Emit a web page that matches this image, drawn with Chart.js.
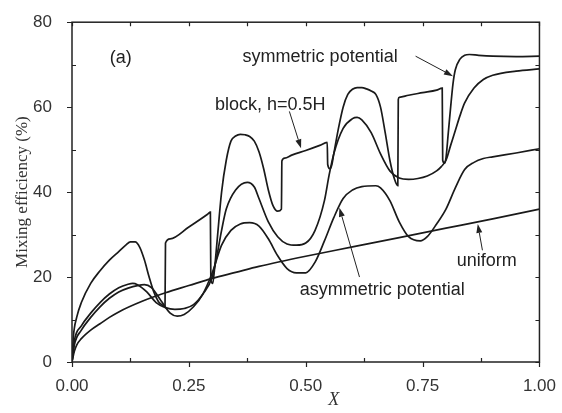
<!DOCTYPE html>
<html>
<head>
<meta charset="utf-8">
<script src="https://cdn.jsdelivr.net/npm/chart.js@4.4.1/dist/chart.umd.min.js"></script>
<style>
  html, body { margin: 0; padding: 0; background: #fff; }
  #wrap { width: 562px; height: 413px; }
</style>
</head>
<body>
<div id="wrap"><canvas id="chart" width="562" height="413"></canvas></div>
<script>
// mixing efficiency (%) along the channel
const blockX = [0, 0.003, 0.01, 0.02, 0.04, 0.06, 0.08, 0.10, 0.115, 0.125, 0.135, 0.145, 0.155, 0.165, 0.175, 0.185, 0.195, 0.199,
                0.2, 0.21, 0.25, 0.29, 0.296, 0.297, 0.301, 0.305, 0.31, 0.32, 0.33, 0.34, 0.35, 0.36, 0.37, 0.38, 0.39, 0.40,
                0.41, 0.42, 0.43, 0.44, 0.448, 0.449, 0.455, 0.47, 0.50, 0.53, 0.546, 0.547, 0.552, 0.556, 0.56, 0.57, 0.58,
                0.59, 0.60, 0.61, 0.62, 0.63, 0.64, 0.65, 0.66, 0.67, 0.68, 0.69, 0.697, 0.698, 0.70, 0.72, 0.75, 0.78, 0.792,
                0.793, 0.797, 0.80, 0.805, 0.81, 0.815, 0.82, 0.83, 0.84, 0.85, 0.87, 0.90, 0.95, 1.0];
const blockY = [0, 6, 10.5, 14, 18.5, 21.5, 24, 26, 27.5, 28.3, 28.3, 27, 24, 20, 16.5, 14.2, 13.3, 13.2,
                28, 29, 31.8, 34.8, 35.3, 19.5, 18.5, 22, 28, 40, 47.5, 52, 53.2, 53.6, 53.5, 53.1, 52, 49.5,
                45.5, 40.5, 36.8, 35.5, 36, 47.3, 48, 48.7, 49.8, 51, 51.7, 46.5, 45.5, 46.5, 49, 55, 60,
                63, 64.2, 64.6, 64.6, 64.3, 63.8, 63, 60, 54, 47.5, 43, 41.5, 61.8, 62.3, 62.8, 63.4, 64, 64.5,
                47.5, 46.8, 48, 54, 60, 65.5, 68.8, 71.3, 72.2, 72.4, 72.2, 72, 71.9, 72];

const symX = [0, 0.005, 0.02, 0.04, 0.06, 0.08, 0.10, 0.12, 0.13, 0.14, 0.16, 0.18, 0.20, 0.22, 0.24, 0.26, 0.28, 0.30,
              0.31, 0.32, 0.33, 0.35, 0.375, 0.39, 0.40, 0.42, 0.44, 0.46, 0.48, 0.50, 0.52, 0.54, 0.55, 0.56, 0.58,
              0.60, 0.61, 0.62, 0.64, 0.66, 0.68, 0.70, 0.72, 0.74, 0.76, 0.78, 0.79, 0.80, 0.81, 0.82, 0.83, 0.84,
              0.86, 0.88, 0.90, 0.95, 1.0];
const symY = [0, 5, 8.5, 11.5, 14, 16, 17.5, 18.3, 18.5, 18.2, 16.5, 14, 12.8, 12.4, 12.6, 13.5, 16, 20,
              25, 31, 36, 40.5, 42.3, 41.2, 38.5, 33, 29.5, 27.8, 27.5, 28, 31, 38, 44, 49, 55,
              57.3, 57.6, 57, 54, 49, 45, 43.3, 43, 43.2, 43.8, 45, 46, 47.5, 51, 54.5, 58, 61,
              64.5, 66.5, 67.5, 68.5, 69];

const asymX = [0, 0.005, 0.02, 0.04, 0.06, 0.08, 0.10, 0.12, 0.14, 0.155, 0.17, 0.19, 0.21, 0.225, 0.24, 0.26, 0.28,
               0.30, 0.32, 0.34, 0.36, 0.38, 0.40, 0.42, 0.44, 0.46, 0.48, 0.50, 0.52, 0.54, 0.56, 0.58, 0.60, 0.62,
               0.65, 0.66, 0.68, 0.70, 0.72, 0.745, 0.76, 0.78, 0.80, 0.82, 0.84, 0.86, 0.88, 0.90, 0.95, 1.0];
const asymY = [0, 4, 7.5, 10.5, 13, 15, 16.5, 17.4, 18, 18.2, 17.5, 14.5, 11.5, 10.8, 11.2, 13, 16,
               21, 27.5, 31, 32.5, 32.8, 32, 29, 25, 22, 21, 21, 23.5, 28.5, 34, 38.5, 40.5, 41.3,
               41.5, 41, 38, 33, 29.5, 28.5, 29.5, 32.5, 36, 41, 45.3, 47, 47.9, 48.3, 49.2, 50.2];

const uniformX = [0, 0.005, 0.01, 0.02, 0.04, 0.06, 0.08, 0.10, 0.15, 0.20, 0.25, 0.30, 0.35, 0.40, 0.50, 0.60, 0.70, 0.80, 0.90, 1.0];
const uniformY = [0, 2.5, 4, 5.5, 7.5, 9, 10.5, 11.8, 14.3, 16.3, 18, 19.7, 21.1, 22.5, 24.9, 27.1, 29.3, 31.5, 33.7, 36];

const xTicks = [0, 0.25, 0.5, 0.75, 1];
const yTicks = [0, 20, 40, 60, 80];

// text labels and arrows, in data units
const notes = [
    { text: "(a)", x: 0.081, y: 71.5 },
    { text: "symmetric potential", x: 0.365, y: 71.7 },
    { text: "block, h=0.5H", x: 0.306, y: 60.5 },
    { text: "uniform", x: 0.823, y: 23.8 },
    { text: "asymmetric potential", x: 0.487, y: 17 },
];
const arrows = [
    { from: [0.735, 72], to: [0.815, 67.3] },
    { from: [0.465, 59], to: [0.49, 50.3] },
    { from: [0.878, 26.3], to: [0.868, 32.5] },
    { from: [0.615, 20], to: [0.572, 36.3] },
];
const xTitle = { text: "X", x: 0.56 };

const pts = (xs, ys) => xs.map((x, i) => ({ x, y: ys[i] }));
const ink = "#1a1a1a";

const frame = {
    id: "frame",
    afterDraw(chart) {
        const { ctx, chartArea: a, scales: { x, y } } = chart;
        ctx.save();
        ctx.strokeStyle = "#222";
        ctx.lineWidth = 1.5;
        ctx.strokeRect(a.left, a.top, a.right - a.left, a.bottom - a.top);

        ctx.lineWidth = 1.2;
        ctx.beginPath();
        for (let v = 0; v <= 1.0001; v += 0.125) {
            const px = Math.round(x.getPixelForValue(v)) + 0.5;
            const major = xTicks.some(t => Math.abs(t - v) < 1e-6);
            if (major) { ctx.moveTo(px, a.bottom); ctx.lineTo(px, a.bottom + 5); }
            else { ctx.moveTo(px, a.bottom); ctx.lineTo(px, a.bottom - 4); }
            ctx.moveTo(px, a.top); ctx.lineTo(px, a.top + 4);
        }
        for (let v = 0; v <= 80; v += 10) {
            const py = Math.round(y.getPixelForValue(v)) + 0.5;
            const major = yTicks.includes(v);
            if (major) { ctx.moveTo(a.left, py); ctx.lineTo(a.left - 5, py); }
            else { ctx.moveTo(a.left, py); ctx.lineTo(a.left + 4, py); }
            ctx.moveTo(a.right, py); ctx.lineTo(a.right - 4, py);
        }
        ctx.stroke();

        ctx.fillStyle = "#222";
        ctx.font = '18px "Liberation Sans", Arial, sans-serif';
        ctx.textBaseline = "middle";
        ctx.textAlign = "left";
        notes.forEach(n => ctx.fillText(n.text, x.getPixelForValue(n.x), y.getPixelForValue(n.y)));

        ctx.strokeStyle = "#222";
        ctx.lineWidth = 1;
        arrows.forEach(ar => {
            const x0 = x.getPixelForValue(ar.from[0]), y0 = y.getPixelForValue(ar.from[1]);
            const x1 = x.getPixelForValue(ar.to[0]), y1 = y.getPixelForValue(ar.to[1]);
            const ang = Math.atan2(y1 - y0, x1 - x0);
            const len = 9, half = 3;
            ctx.beginPath();
            ctx.moveTo(x0, y0);
            ctx.lineTo(x1 - Math.cos(ang) * len, y1 - Math.sin(ang) * len);
            ctx.stroke();
            ctx.beginPath();
            ctx.moveTo(x1, y1);
            ctx.lineTo(x1 - Math.cos(ang) * len - Math.sin(ang) * half, y1 - Math.sin(ang) * len + Math.cos(ang) * half);
            ctx.lineTo(x1 - Math.cos(ang) * len + Math.sin(ang) * half, y1 - Math.sin(ang) * len - Math.cos(ang) * half);
            ctx.closePath();
            ctx.fill();
        });

        // axis title for x, set a little right of centre as in the original
        ctx.fillStyle = "#333";
        ctx.font = 'italic 18px "Liberation Serif", "Times New Roman", serif';
        ctx.textAlign = "center";
        ctx.fillText(xTitle.text, x.getPixelForValue(xTitle.x), a.bottom + 38);
        ctx.restore();
    }
};

const line = (label, xs, ys) => ({
    label,
    data: pts(xs, ys),
    borderColor: ink,
    borderWidth: 1.7,
    pointRadius: 0,
    cubicInterpolationMode: "monotone",
    fill: false,
});

new Chart(document.getElementById("chart"), {
    type: "line",
    data: {
        datasets: [
            line("block, h=0.5H", blockX, blockY),
            line("symmetric potential", symX, symY),
            line("asymmetric potential", asymX, asymY),
            line("uniform", uniformX, uniformY),
        ]
    },
    options: {
        responsive: false,
        animation: false,
        layout: { padding: { top: 13, right: 22, left: 0, bottom: 0 } },
        plugins: { legend: { display: false }, tooltip: { enabled: false } },
        scales: {
            x: {
                type: "linear", min: 0, max: 1,
                grid: { display: false },
                border: { display: false },
                afterBuildTicks: s => { s.ticks = xTicks.map(v => ({ value: v })); },
                afterFit: s => { s.height = 51; },
                ticks: {
                    padding: 6,
                    color: "#333",
                    font: { family: '"Liberation Sans", Arial, sans-serif', size: 17 },
                    maxRotation: 0,
                    callback: v => v.toFixed(2),
                },
            },
            y: {
                min: 0, max: 80,
                grid: { display: false },
                border: { display: false },
                afterBuildTicks: s => { s.ticks = yTicks.map(v => ({ value: v })); },
                afterFit: s => { s.width = 72; },
                ticks: {
                    padding: 12,
                    color: "#333",
                    font: { family: '"Liberation Sans", Arial, sans-serif', size: 17 },
                },
                title: {
                    display: true, text: "Mixing efficiency (%)", color: "#333",
                    font: { family: '"Liberation Serif", "Times New Roman", serif', size: 17 },
                    padding: { top: 12, bottom: 0 },
                },
            }
        }
    },
    plugins: [frame]
});
</script>
</body>
</html>
